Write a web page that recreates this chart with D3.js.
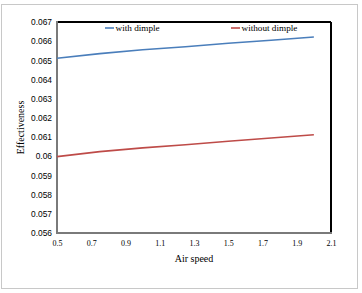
<!DOCTYPE html>
<html>
<head>
<meta charset="utf-8">
<script src="https://cdn.jsdelivr.net/npm/d3@7"></script>
<style>
  body { margin: 0; background: #fff; }
  svg text { font-family: "Liberation Serif", "Times New Roman", serif; fill: #000; }
</style>
</head>
<body>
<div id="chart"></div>
<script>
const airSpeed = [0.5, 0.75, 1.0, 1.25, 1.5, 1.75, 2.0];
const withDimple = [0.06511, 0.06535, 0.06555, 0.06571, 0.06589, 0.06605, 0.06622];
const withoutDimple = [0.05998, 0.06024, 0.06044, 0.0606, 0.06078, 0.06095, 0.06112];
const xTicks = [0.5, 0.7, 0.9, 1.1, 1.3, 1.5, 1.7, 1.9, 2.1];
const yTicks = [0.056, 0.057, 0.058, 0.059, 0.06, 0.061, 0.062, 0.063, 0.064, 0.065, 0.066, 0.067];
const seriesNames = ["with dimple", "without dimple"];
const seriesColors = ["#4a7ebb", "#be4b48"];

const W = 362, H = 293;
const plot = { left: 57, right: 331, top: 22, bottom: 233 };

const svg = d3.select("#chart").append("svg")
  .attr("width", W).attr("height", H);

// outer frame
svg.append("rect")
  .attr("x", 1.5).attr("y", 4.5)
  .attr("width", 356).attr("height", 284)
  .attr("fill", "none").attr("stroke", "#c8c8c8").attr("stroke-width", 1);

const x = d3.scaleLinear().domain([0.5, 2.1]).range([plot.left, plot.right]);
const y = d3.scaleLinear().domain([0.056, 0.067]).range([plot.bottom, plot.top]);

// y axis labels
svg.append("g")
  .attr("transform", `translate(${plot.left},0)`)
  .call(d3.axisLeft(y).tickValues(yTicks).tickSize(0).tickPadding(5).tickFormat(d => d3.format("")(+d.toFixed(3))))
  .call(g => g.select(".domain").remove())
  .selectAll("text")
  .style("font-family", "'Liberation Sans', Arial, sans-serif")
  .style("font-size", "8.4px")
  .attr("fill", "#000");

// x axis labels
svg.append("g")
  .attr("transform", `translate(0,${plot.bottom})`)
  .call(d3.axisBottom(x).tickValues(xTicks).tickSize(0).tickPadding(7).tickFormat(d3.format(".1f")))
  .call(g => g.select(".domain").remove())
  .selectAll("text")
  .style("font-family", "'Liberation Serif', 'Times New Roman', serif")
  .style("font-size", "8px")
  .attr("fill", "#000");

// plot frame: top/right black, left/bottom gray
svg.append("line").attr("x1", plot.left).attr("x2", plot.right).attr("y1", plot.top).attr("y2", plot.top)
  .attr("stroke", "#000").attr("stroke-width", 2);
svg.append("line").attr("x1", plot.right).attr("x2", plot.right).attr("y1", plot.top).attr("y2", plot.bottom)
  .attr("stroke", "#000").attr("stroke-width", 2);
svg.append("line").attr("x1", plot.left).attr("x2", plot.left).attr("y1", plot.top - 1).attr("y2", plot.bottom + 1)
  .attr("stroke", "#7a7a7a").attr("stroke-width", 2);
svg.append("line").attr("x1", plot.left).attr("x2", plot.right + 1).attr("y1", plot.bottom).attr("y2", plot.bottom)
  .attr("stroke", "#7a7a7a").attr("stroke-width", 2);

// lines
const line = d3.line().x((d, i) => x(airSpeed[i])).y(d => y(d));
[withDimple, withoutDimple].forEach((vals, k) => {
  svg.append("path")
    .datum(vals)
    .attr("d", line)
    .attr("fill", "none")
    .attr("stroke", seriesColors[k])
    .attr("stroke-width", 1.6);
});

// legend
const legendX = [105, 231];
seriesNames.forEach((name, i) => {
  const g = svg.append("g").attr("transform", `translate(${legendX[i]},28)`);
  g.append("line").attr("x1", 0).attr("x2", 9).attr("y1", 0).attr("y2", 0)
    .attr("stroke", seriesColors[i]).attr("stroke-width", 1.6);
  g.append("text").attr("x", 10.5).attr("y", 3)
    .style("font-size", "9.2px").text(name);
});

// axis titles
svg.append("text")
  .attr("x", (plot.left + plot.right) / 2).attr("y", 262)
  .attr("text-anchor", "middle")
  .style("font-size", "10px")
  .text("Air speed");

svg.append("text")
  .attr("transform", `translate(24,${(plot.top + plot.bottom) / 2}) rotate(-90)`)
  .attr("text-anchor", "middle")
  .style("font-size", "10px")
  .text("Effectiveness");
</script>
</body>
</html>
